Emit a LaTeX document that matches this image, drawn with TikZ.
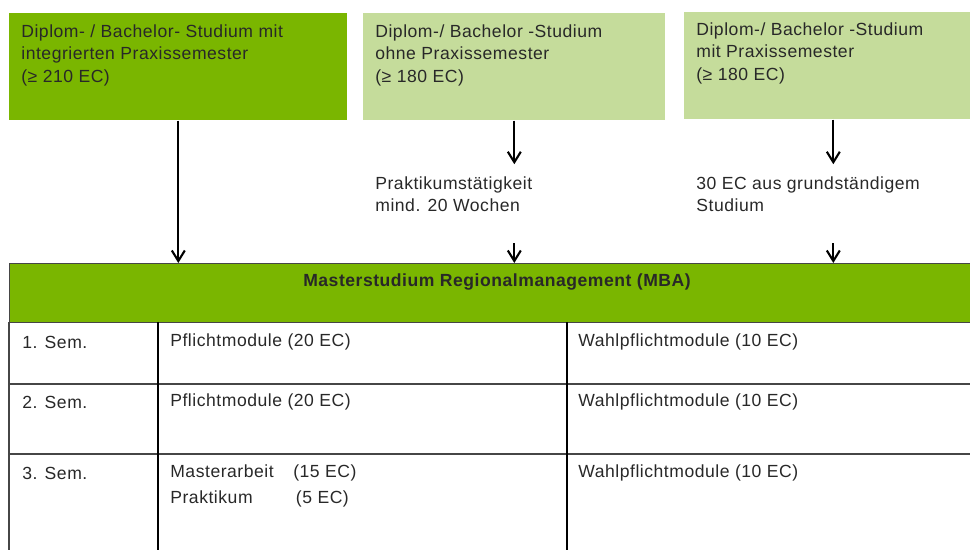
\documentclass[tikz,border=0pt]{standalone}
\usepackage{fontspec}
\setmainfont{Liberation Sans}[LetterSpace=3]
\usetikzlibrary{arrows.meta}

\definecolor{darkgreen}{RGB}{122,182,0}
\definecolor{lightgreen}{RGB}{197,220,155}
\definecolor{rulegray}{RGB}{70,70,70}
\definecolor{textgray}{RGB}{40,40,40}

\begin{document}
\begin{tikzpicture}[x=0.02cm,y=-0.02cm,
	every node/.style={font=\fontsize{10}{12.8}\selectfont, text=textgray},
	srcbox/.style={anchor=north west, inner sep=0, minimum height=2.14cm},
	note/.style={anchor=north west, align=left, inner xsep=0, inner ysep=5.7pt},
	cell/.style={anchor=west, inner sep=0},
	arr/.style={-{Straight Barb[length=2.1mm,width=2.6mm]}, line width=1.2pt},
	rule/.style={draw=rulegray, line width=0.7pt}]
	
	\useasboundingbox (0,0) rectangle (970,550);
	
	% Zugangswege
	\node[srcbox, fill=darkgreen, minimum width=6.76cm] (intbox) at (9,13) {};
	\node[note, anchor=north west, inner sep=0] (inttext) at (21,24) {Diplom- / Bachelor- Studium mit\\integrierten Praxissemester\\(≥ 210 EC)};
	
	\node[srcbox, fill=lightgreen, minimum width=6.04cm] (ohnebox) at (363,13) {};
	\node[note, anchor=north west, inner sep=0] (ohnetext) at (375,24) {Diplom-/ Bachelor -Studium\\ohne Praxissemester\\(≥ 180 EC)};
	
	\node[srcbox, fill=lightgreen, minimum width=5.96cm] (mitbox) at (684,12) {};
	\node[note, anchor=north west, inner sep=0] (mittext) at (696,22) {Diplom-/ Bachelor -Studium\\mit Praxissemester\\(≥ 180 EC)};
	
	% Auflagen
	\node[note] (praxis) at (375,166) {Praktikumstätigkeit\\mind. 20 Wochen};
	\node[note] (grund) at (696,166) {30 EC aus grundständigem\\Studium};
	
	% Master
	\node[anchor=north west, inner sep=0, fill=darkgreen, rule, minimum width=19.52cm, minimum height=1.18cm] (master) at (9,263) {};
	\node[font=\fontsize{10}{12.8}\selectfont\bfseries] (mastertitle) at (497,282) {Masterstudium Regionalmanagement (MBA)};
	
	% Pfeile
	\draw[arr] (intbox.south) -- (intbox.south |- master.north);
	\draw[arr] (ohnebox.south) -- ([yshift=1pt]ohnebox.south |- praxis.north);
	\draw[arr, shorten <=10\pgflinewidth] (ohnebox.south |- praxis.south) -- (ohnebox.south |- master.north);
	\draw[arr] (mitbox.south) -- ([yshift=1pt]mitbox.south |- grund.north);
	\draw[arr, shorten <=10\pgflinewidth] (mitbox.south |- grund.south) -- (mitbox.south |- master.north);
	
	% Tabelle
	\draw[rule] (9,384) -- (985,384);
	\draw[rule] (9,454) -- (985,454);
	\draw[rule] (9,322) -- (9,560);
	\draw[line width=0.6pt] (158,322) -- (158,560);
	\draw[line width=0.6pt] (567,322) -- (567,560);
	
	\node[cell] (sem1) at (22,342) {1. Sem.};
	\node[cell] (pflicht1) at (170,342) {Pflichtmodule (20 EC)};
	\node[cell] (wahl1) at (578,342) {Wahlpflichtmodule (10 EC)};
	
	\node[cell] (sem2) at (22,402) {2. Sem.};
	\node[cell] (pflicht2) at (170,402) {Pflichtmodule (20 EC)};
	\node[cell] (wahl2) at (578,402) {Wahlpflichtmodule (10 EC)};
	
	\node[cell] (sem3) at (22,473) {3. Sem.};
	\node[cell] (arbeit) at (170,473) {\makebox[70pt][l]{Masterarbeit}(15 EC)};
	\node[cell] (praktikum) at (170,499) {\makebox[71.5pt][l]{Praktikum}(5 EC)};
	\node[cell] (wahl3) at (578,473) {Wahlpflichtmodule (10 EC)};
	
\end{tikzpicture}
\end{document}
